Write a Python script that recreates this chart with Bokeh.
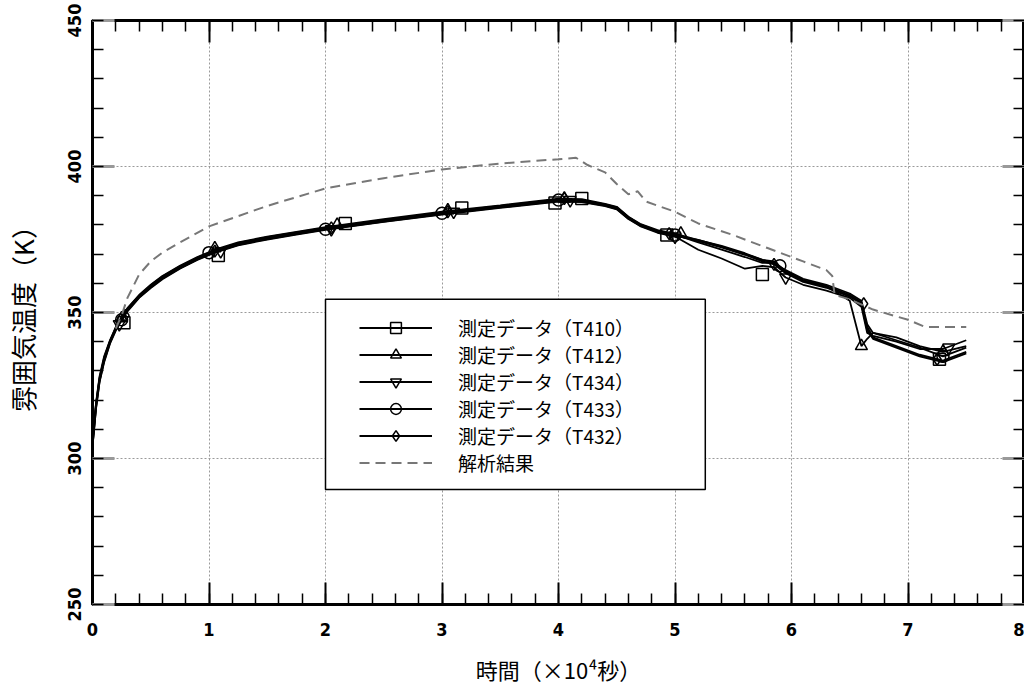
from bokeh.plotting import figure
from bokeh.models import (Range1d, LinearAxis, SingleIntervalTicker, Legend, LegendItem,
                          BoxAnnotation, CustomJSTickFormatter)
from bokeh.embed import file_html
from bokeh.resources import INLINE

# ---------------- data (time in 10^4 s, temperature in K) ----------------
time = [0, 0.03, 0.06, 0.1, 0.15, 0.2, 0.25, 0.3, 0.4, 0.5, 0.6, 0.75, 0.9, 1.05, 1.25,
        1.5, 1.75, 2.0, 2.5, 3.0, 3.5, 4.0, 4.2, 4.4, 4.5, 4.6, 4.7, 4.85, 5.0, 5.2,
        5.4, 5.6, 5.75, 5.85, 5.95, 6.1, 6.3, 6.5, 6.6, 6.65, 6.7, 6.9, 7.1, 7.3, 7.5]

t410 = [305, 318, 327, 334, 340, 344.5, 348, 351, 355.5, 359, 362, 365.5, 368.5, 371, 373.5,
        375.5, 377.2, 378.8, 381.5, 384, 386.3, 388.5, 388.3, 386.8, 385.8, 382.5, 380, 377.8, 376.5, 374.5,
        372.3, 369.8, 367.5, 366.5, 363.5, 360.5, 358.5, 355.5, 353, 345, 341.5, 338.5, 335.5, 333.5, 336.5]
t412 = [306, 319, 328, 335, 340.5, 345, 348.5, 351.5, 356, 359.5, 362.5, 366, 369, 371.5, 374,
        376, 377.6, 379.2, 382, 384.5, 386.7, 389, 388.8, 387.2, 386.2, 382.8, 380.4, 378.2, 377, 374.8,
        372.8, 370.3, 368, 367, 364, 361, 359, 354, 338.5, 341, 343, 341.5, 338.5, 336.5, 338.5]
t434 = [304, 317, 326, 333, 339.3, 343.8, 347.3, 350.4, 355, 358.4, 361.4, 365, 368, 370.5, 373,
        375, 376.7, 378.3, 381, 383.5, 385.8, 388, 387.8, 386.4, 385.3, 382, 379.6, 377.3, 376, 371.5,
        368.5, 365, 366, 365.5, 362, 359.5, 357.5, 355, 352, 343, 342, 340, 337.5, 337.5, 340.5]
t433 = [305.5, 318.5, 327.5, 334.5, 340.3, 344.8, 348.3, 351.3, 355.8, 359.3, 362.3, 365.8, 368.8, 371.3, 373.8,
        375.8, 377.4, 379, 381.7, 384.2, 386.5, 388.7, 388.5, 387, 386, 382.7, 380.2, 378, 376.7, 374,
        371.5, 369, 367, 367, 364.5, 361.5, 359.5, 356.5, 354, 346, 343, 340.5, 338, 335, 338]
t432 = [304.5, 317.5, 326.5, 333.5, 339.7, 344.2, 347.7, 350.7, 355.2, 358.7, 361.7, 365.2, 368.2, 370.7, 373.2,
        375.2, 376.9, 378.5, 381.2, 383.7, 386, 388.2, 388, 386.6, 385.5, 382.2, 379.8, 377.6, 376.3, 374.8,
        372.5, 370, 368, 367.5, 364, 361, 359, 356, 353.5, 344, 341, 338, 335, 333, 336]

# marker positions of each measured series
t410_mx = [0.27, 1.08, 2.17, 3.17, 3.97, 4.2, 4.93, 5.75, 7.27]
t410_my = [346.5, 369.5, 380.5, 385.8, 387.5, 389, 376.5, 363, 334]
t412_mx = [0.25, 1.05, 2.1, 3.05, 4.05, 5.05, 6.6, 7.3]
t412_my = [348, 372, 380, 385, 389, 377, 338.5, 336.5]
t434_mx = [0.23, 1.1, 2.05, 3.1, 4.1, 5.0, 5.95, 7.35]
t434_my = [346, 371, 378.5, 384.5, 388.5, 376, 362, 338]
t433_mx = [0.25, 1.0, 2.0, 3.0, 4.0, 5.0, 5.9, 7.3]
t433_my = [347.5, 370.5, 378.5, 384, 388.5, 376.5, 366, 335]
t432_mx = [0.28, 1.05, 2.05, 3.05, 4.05, 4.95, 5.85, 6.62, 7.25]
t432_my = [349, 371, 379, 384.5, 389, 377, 366.5, 353, 334]

# analysis result (dashed)
ana_time = [0.2, 0.25, 0.3, 0.4, 0.5, 0.6, 0.75, 1.0, 1.25, 1.5, 1.75, 2.0, 2.5, 3.0, 3.5, 4.0,
            4.15, 4.25, 4.4, 4.5, 4.6, 4.68, 4.75, 5.0, 5.2, 5.5, 5.8, 6.1, 6.3, 6.35, 6.37,
            6.5, 6.7, 7.0, 7.15, 7.5]
ana_temp = [344.5, 349, 355, 363, 367.5, 370.5, 374, 379.5, 383, 386.5, 389.5, 392.5, 396, 399, 401, 402.5,
            403, 400.5, 398, 394, 390.5, 391.5, 388, 384.5, 380.5, 376.5, 372, 367.5, 364.5, 362.5, 356,
            354.5, 351, 347.5, 345, 345]

labels = ["測定データ（T410）", "測定データ（T412）", "測定データ（T434）",
          "測定データ（T433）", "測定データ（T432）", "解析結果"]
x_ticks = [0, 1, 2, 3, 4, 5, 6, 7, 8]
y_ticks = [250, 300, 350, 400, 450]

# ---------------- figure ----------------
TICK_FONT = "Liberation Sans Narrow, DejaVu Sans Condensed, DejaVu Sans, sans-serif"
JP_FONT = "Noto Sans CJK JP"

p = figure(frame_width=932, frame_height=584,
           x_range=Range1d(x_ticks[0], x_ticks[-1]), y_range=Range1d(y_ticks[0], y_ticks[-1]),
           output_backend="svg", toolbar_location=None,
           min_border_left=86, min_border_top=20, min_border_right=0, min_border_bottom=0,
           background_fill_color="white", border_fill_color="white")
p.outline_line_color = "black"
p.outline_line_width = 3

xt = SingleIntervalTicker(interval=1, num_minor_ticks=5)
yt = SingleIntervalTicker(interval=50, num_minor_ticks=5)

def style_axis(ax, major_color):
    ax.axis_line_color = "black"
    ax.axis_line_width = 3
    ax.major_tick_in = 22
    ax.major_tick_out = 0
    ax.minor_tick_in = 11
    ax.minor_tick_out = 0
    ax.major_tick_line_color = major_color
    ax.major_tick_line_width = 2
    ax.minor_tick_line_color = "black"
    ax.minor_tick_line_width = 1.5
    ax.major_label_text_color = "black"
    ax.axis_label_text_color = "black"

xa = p.xaxis[0]
xa.ticker = xt
style_axis(xa, "black")
xa.major_label_text_font = TICK_FONT
xa.major_label_text_font_style = "bold"
xa.major_label_text_font_size = "18px"
xa.major_label_standoff = 18
xa.axis_label = "時間（×10⁴秒）"
xa.axis_label_text_font = JP_FONT
xa.axis_label_text_font_style = "normal"
xa.axis_label_text_font_size = "22px"
xa.axis_label_standoff = 14

ya = p.yaxis[0]
ya.ticker = yt
style_axis(ya, "#999999")
ya.major_tick_line_width = 3
ya.major_label_text_font = TICK_FONT
ya.major_label_text_font_style = "bold"
ya.major_label_text_font_size = "18px"
ya.major_label_orientation = "vertical"
ya.major_label_standoff = 12
ya.axis_label = "雰囲気温度（K）"
ya.axis_label_text_font = JP_FONT
ya.axis_label_text_font_style = "normal"
ya.axis_label_text_font_size = "26px"
ya.axis_label_standoff = 24

blank = CustomJSTickFormatter(code="return ''")
top = LinearAxis(ticker=SingleIntervalTicker(interval=1, num_minor_ticks=5), formatter=blank,
                 major_label_text_font_size="1px", major_label_standoff=0)
style_axis(top, "black")
right = LinearAxis(ticker=SingleIntervalTicker(interval=50, num_minor_ticks=5), formatter=blank,
                   major_label_text_font_size="1px", major_label_standoff=0)
style_axis(right, "#999999")
right.major_tick_line_width = 3
p.add_layout(top, "above")
p.add_layout(right, "right")

for g in (p.xgrid[0], p.ygrid[0]):
    g.grid_line_color = "#9a9a9a"
    g.grid_line_dash = "2 2"
    g.grid_line_width = 1
p.xgrid[0].ticker = xt
p.ygrid[0].ticker = yt

# ---------------- series ----------------
series = [
    (t410, t410_mx, t410_my, "square", 2.0),
    (t412, t412_mx, t412_my, "triangle", 1.8),
    (t434, t434_mx, t434_my, "inverted_triangle", 1.8),
    (t433, t433_mx, t433_my, "circle", 1.8),
    (t432, t432_mx, t432_my, "diamond", 2.0),
]
items = []
for (ys, mx, my, mk, lw), lab in zip(series, labels[:5]):
    lr = p.line(time, ys, line_color="black", line_width=lw)
    sr = p.scatter(mx, my, marker=mk, size=12, line_color="black", line_width=1.5,
                   fill_alpha=0)
    items.append(LegendItem(label=lab, renderers=[lr, sr]))

ar = p.line(ana_time, ana_temp, line_color="#777777", line_width=2, line_dash="10 6")
items.append(LegendItem(label=labels[5], renderers=[ar]))

# legend frame
box = BoxAnnotation(left=2.0, right=5.26, bottom=289.4, top=354.5,
                    fill_color="white", fill_alpha=1.0, line_color="black", line_width=1.5,
                    line_alpha=1.0)
p.add_layout(box)

legend = Legend(items=items, location=(267, 128), orientation="vertical",
                glyph_width=73, glyph_height=27, spacing=0, padding=0, margin=0,
                label_standoff=26, label_height=27,
                label_text_font=JP_FONT, label_text_font_size="19px",
                label_text_color="black", border_line_alpha=0, background_fill_alpha=0)
p.add_layout(legend, "center")

open("out.html", "w").write(file_html(p, INLINE))
